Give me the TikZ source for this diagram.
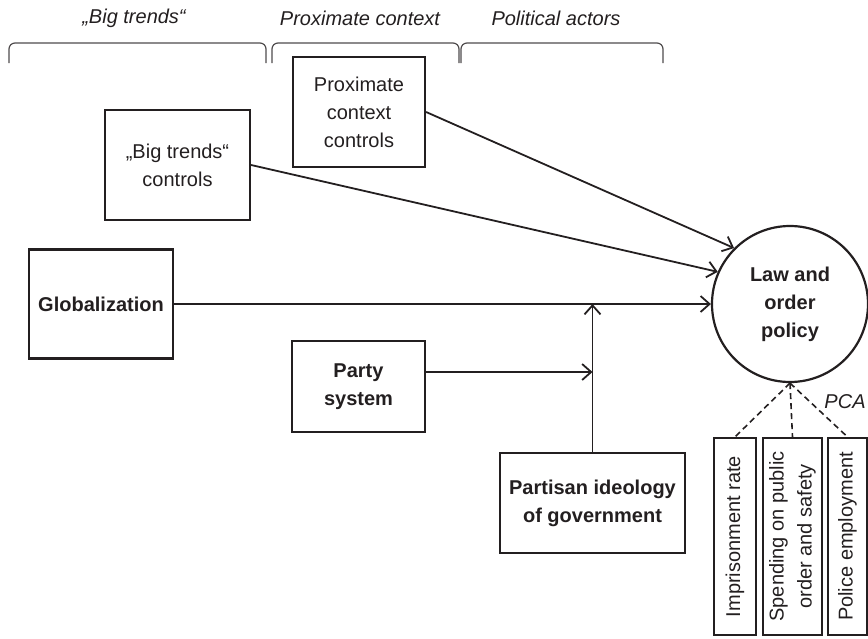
\documentclass[tikz,border=0pt]{standalone}
\usepackage{fontspec}
\setmainfont{Liberation Sans}
\usetikzlibrary{arrows.meta, positioning, calc}
\definecolor{ink}{HTML}{231F20}

\begin{document}
\begin{tikzpicture}[x=0.5pt, y=-0.5pt,
  every node/.style={font=\fontsize{10}{14}\selectfont, text=ink},
  heading/.style={font=\fontsize{10}{14}\selectfont\itshape},
  box/.style={draw=ink, line width=1.1pt, align=center, inner sep=2pt},
  ind/.style={box, rotate=90, minimum width=98.5pt},
  arr/.style={draw=ink, line width=0.9pt, -{Straight Barb[length=4.5pt,width=8pt]}},
  pcaline/.style={draw=ink, line width=0.8pt, dash pattern=on 3pt off 2pt},
  brace/.style={draw=ink!80, line width=0.6pt, rounded corners=3pt}]
\useasboundingbox (0,0) rectangle (868,638);

% Headings and brackets
\node[heading] (hbig) at (134,18) {„Big trends“};
\node[heading] (hprox) at (360,18) {Proximate context};
\node[heading] (hpol) at (556,18) {Political actors};
\draw[brace] (9,63) -- (9,43) -- (266,43) -- (266,63);
\draw[brace] (272,63) -- (272,43) -- (459,43) -- (459,63);
\draw[brace] (461,63) -- (461,43) -- (663,43) -- (663,63);

% Explanatory variables
\node[box, minimum width=66pt, minimum height=55pt] (prox) at (359,112) {Proximate\\context\\controls};
\node[box, minimum width=72.5pt, minimum height=55pt] (big) at (177.5,165) {„Big trends“\\controls};
\node[box, minimum width=72pt, minimum height=54.5pt, font=\fontsize{10}{14}\selectfont\bfseries] (glob) at (101,304) {Globalization};
\node[box, minimum width=66.5pt, minimum height=45.5pt, font=\fontsize{10}{14}\selectfont\bfseries] (party) at (358.5,386.5) {Party\\system};
\node[box, minimum width=92.5pt, minimum height=50pt, font=\fontsize{10}{14}\selectfont\bfseries] (partisan) at (592.5,503) {Partisan ideology\\of government};

% Dependent variable
\node[draw=ink, line width=1.1pt, circle, minimum size=78pt, align=center, font=\fontsize{10}{14}\selectfont\bfseries] (law) at (790,304) {Law and\\order\\policy};

% Indicators
\node[ind, minimum height=21pt] (imp) at (735,536.5) {Imprisonment rate};
\node[ind, minimum height=29.5pt] (spend) at (792.5,536.5) {Spending on public\\order and safety};
\node[ind, minimum height=19.5pt] (police) at (847.5,536.5) {Police employment};
\node[heading, anchor=east, inner xsep=1pt] (pca) at (868,402) {PCA};

% Paths
\coordinate (pj) at (592.5,372);
\draw[arr] (prox.east) -- (law.135);
\draw[arr] (big.east) -- (law.156);
\draw[arr] (glob.east) -- (law.west);
\draw[arr] (party.east |- pj) -- (pj);
\draw[arr] (partisan.north) -- (partisan.north |- law.west);
\draw[pcaline] (law.south) -- (imp.east);
\draw[pcaline] (law.south) -- (spend.east);
\draw[pcaline] (law.south) -- (police.east);
\end{tikzpicture}
\end{document}
